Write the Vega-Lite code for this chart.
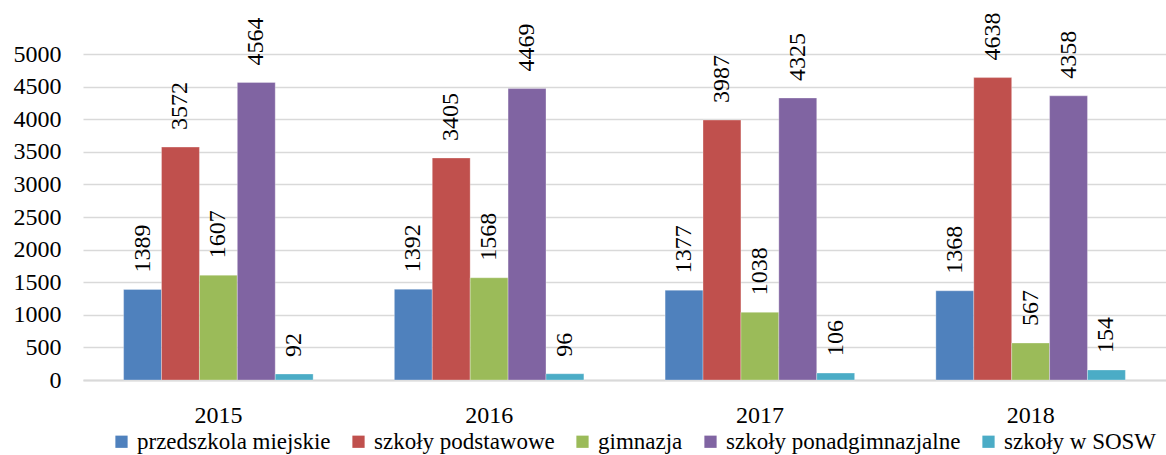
{
  "$schema": "https://vega.github.io/schema/vega-lite/v6.json",
  "width": 1083,
  "height": 326,
  "autosize": {"type": "none"},
  "padding": {"left": 83, "top": 54, "right": 0, "bottom": 75},
  "background": "white",
  "config": {
    "font": "Liberation Serif",
    "view": {"stroke": null},
    "axis": {"labelFont": "Liberation Serif"},
    "legend": {"labelFont": "Liberation Serif"},
    "text": {"font": "Liberation Serif"}
  },
  "data": {
    "values": [
      {"rok": "2015", "typ": "przedszkola miejskie", "v": 1389},
      {"rok": "2015", "typ": "szkoły podstawowe", "v": 3572},
      {"rok": "2015", "typ": "gimnazja", "v": 1607},
      {"rok": "2015", "typ": "szkoły ponadgimnazjalne", "v": 4564},
      {"rok": "2015", "typ": "szkoły w SOSW", "v": 92},
      {"rok": "2016", "typ": "przedszkola miejskie", "v": 1392},
      {"rok": "2016", "typ": "szkoły podstawowe", "v": 3405},
      {"rok": "2016", "typ": "gimnazja", "v": 1568},
      {"rok": "2016", "typ": "szkoły ponadgimnazjalne", "v": 4469},
      {"rok": "2016", "typ": "szkoły w SOSW", "v": 96},
      {"rok": "2017", "typ": "przedszkola miejskie", "v": 1377},
      {"rok": "2017", "typ": "szkoły podstawowe", "v": 3987},
      {"rok": "2017", "typ": "gimnazja", "v": 1038},
      {"rok": "2017", "typ": "szkoły ponadgimnazjalne", "v": 4325},
      {"rok": "2017", "typ": "szkoły w SOSW", "v": 106},
      {"rok": "2018", "typ": "przedszkola miejskie", "v": 1368},
      {"rok": "2018", "typ": "szkoły podstawowe", "v": 4638},
      {"rok": "2018", "typ": "gimnazja", "v": 567},
      {"rok": "2018", "typ": "szkoły ponadgimnazjalne", "v": 4358},
      {"rok": "2018", "typ": "szkoły w SOSW", "v": 154}
    ]
  },
  "encoding": {
    "x": {
      "field": "rok", "type": "nominal",
      "scale": {"paddingInner": 0.3, "paddingOuter": 0.15},
      "axis": {
        "title": null, "labelAngle": 0, "ticks": false,
        "domainColor": "#d9d9d9", "domainWidth": 2,
        "labelFont": "Liberation Serif", "labelFontSize": 24, "labelColor": "#000000",
        "labelPadding": 23
      }
    },
    "xOffset": {
      "field": "typ", "type": "nominal",
      "scale": {"domain": ["przedszkola miejskie", "szkoły podstawowe", "gimnazja", "szkoły ponadgimnazjalne", "szkoły w SOSW"], "paddingInner": 0, "paddingOuter": 0}
    },
    "y": {
      "field": "v", "type": "quantitative",
      "scale": {"domain": [0, 5000]},
      "axis": {
        "title": null, "values": [0, 500, 1000, 1500, 2000, 2500, 3000, 3500, 4000, 4500, 5000],
        "format": "d",
        "domain": false, "ticks": false,
        "gridColor": "#d9d9d9", "gridWidth": 1.5,
        "labelFont": "Liberation Serif", "labelFontSize": 24, "labelColor": "#000000",
        "labelPadding": 22
      }
    }
  },
  "layer": [
    {
      "mark": {"type": "bar", "stroke": "#ffffff", "strokeWidth": 0.5, "strokeOpacity": 0.6},
      "encoding": {
        "y": {"field": "v", "type": "quantitative", "stack": null},
        "color": {
          "field": "typ", "type": "nominal",
          "scale": {
            "domain": ["przedszkola miejskie", "szkoły podstawowe", "gimnazja", "szkoły ponadgimnazjalne", "szkoły w SOSW"],
            "range": ["#4F81BD", "#C0504D", "#9BBB59", "#8064A2", "#4BACC6"]
          },
          "legend": {
            "title": null, "orient": "none", "direction": "horizontal", "columns": 5,
            "legendX": 27, "legendY": 376,
            "symbolType": "square", "symbolSize": 150, "symbolStrokeWidth": 0,
            "labelFont": "Liberation Serif", "labelFontSize": 23, "labelColor": "#000000",
            "labelOffset": 4, "columnPadding": 16, "labelLimit": 400
          }
        }
      }
    },
    {
      "mark": {"type": "text", "angle": 270, "align": "left", "baseline": "middle", "dx": 17, "font": "Liberation Serif", "fontSize": 24, "color": "#000000"},
      "encoding": {
        "text": {"field": "v", "type": "quantitative", "format": "d"}
      }
    }
  ]
}
